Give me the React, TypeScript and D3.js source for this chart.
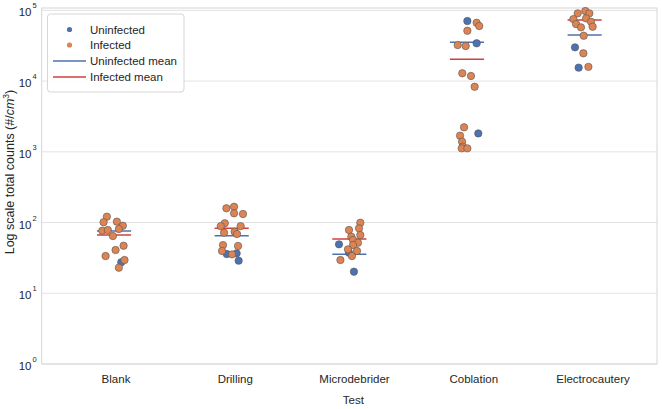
import React from "react";
import * as d3 from "d3";

const categories = ["Blank", "Drilling", "Microdebrider", "Coblation", "Electrocautery"];
const yTicks = [1, 10, 100, 1000, 10000, 100000];

const uninfectedCategory = [0, 1, 1, 1, 2, 2, 2, 3, 3, 3, 4, 4];
const uninfectedCount = [27.4, 35.9, 36.7, 28.9, 49.2, 37.4, 20.2, 70600, 34200, 1820, 30000, 15500];
const uninfectedJitter = [0.061, -0.042, 0.042, 0.059, -0.088, -0.003, 0.039, 0.003, 0.082, 0.096, -0.082, -0.051];

const infectedCategory = [
  0, 0, 0, 0, 0, 0, 0, 0, 0, 0, 0, 0, 0,
  1, 1, 1, 1, 1, 1, 1, 1, 1, 1, 1, 1, 1, 1,
  2, 2, 2, 2, 2, 2, 2, 2, 2, 2, 2, 2,
  3, 3, 3, 3, 3, 3, 3, 3, 3, 3, 3, 3, 3, 3,
  4, 4, 4, 4, 4, 4, 4, 4, 4, 4, 4, 4,
];
const infectedCount = [
  121, 101, 103, 90, 76.6, 78.4, 81, 64.5, 47, 40.9, 33.6, 29.5, 23,
  159, 167, 135, 132, 97.5, 89, 89, 71.8, 74, 68.8, 48, 46.6, 39.6, 35.5,
  99.4, 82.8, 78.4, 66.6, 63, 56.7, 51.9, 48.1, 41.8, 39.6, 33.6, 29.5,
  66800, 60000, 51500, 32300, 31300, 12900, 11800, 8320, 2220, 1690, 1390, 1180, 1120, 1120,
  90700, 97800, 90700, 75300, 77100, 69000, 64000, 57500, 58700, 43800, 24700, 15900,
];
const infectedJitter = [
  -0.061, -0.089, 0.024, 0.075, -0.1, -0.053, 0.041, -0.01, 0.081, 0.013, -0.072, 0.089, 0.041,
  -0.045, 0.02, 0.02, 0.096, -0.059, -0.093, 0.076, -0.065, 0.025, 0.045, -0.074, 0.054, -0.082, 0.003,
  0.093, 0.082, -0.003, 0.093, 0.017, 0.031, 0.073, 0.031, -0.012, 0.065, 0.022, -0.076,
  0.082, 0.104, 0.003, -0.079, -0.011, -0.04, 0.034, 0.065, -0.025, -0.059, -0.042, -0.036, -0.045, 0.003,
  -0.059, 0.006, 0.04, -0.096, 0.012, 0.054, -0.073, -0.031, 0.068, -0.008, -0.011, 0.032,
];

const uninfectedMean = [75.9, 65.1, 35.5, 35300, 44800];
const infectedMean = [66.6, 82.8, 58.5, 20300, 72900];

const BLUE = "#4c72b0";
const ORANGE = "#dd8452";
const RED = "#d0413c";
const FONT = "'Liberation Sans', Arial, sans-serif";

export default function App() {
  const W = 662, H = 409;
  const left = 41.7, right = 657, top = 8, bottom = 364;
  const x = d3.scaleLinear().domain([-0.615, 4.615]).range([left, right]);
  const labelX = d3.scaleLinear().domain([0, 4]).range([116, 593]);
  const y = d3.scaleLog().domain([1, 1.08e5]).range([bottom, top]);
  const half = 0.145;

  return (
    <svg width={W} height={H} style={{ position: "absolute", left: 0, top: 0, background: "#fff" }} fontFamily={FONT}>
      <rect x={left} y={top} width={right - left} height={bottom - top} fill="#fff" />
      {yTicks.map((t) => (
        <line key={"g" + t} x1={left} x2={right} y1={y(t)} y2={y(t)} stroke="#e3e3e3" strokeWidth={1} />
      ))}
      <rect x={left} y={top} width={right - left} height={bottom - top} fill="none" stroke="#d6d6d6" strokeWidth={1} />

      {yTicks.map((t) => (
        <g key={"t" + t}>
          <text x={31.5} y={y(t) + 6} textAnchor="end" fontSize={11.5} fill="#262626">10</text>
          <text x={32.5} y={y(t) - 2} fontSize={7.5} fill="#262626">{Math.round(Math.log10(t))}</text>
        </g>
      ))}

      {categories.map((c, i) => (
        <text key={c} x={labelX(i)} y={383} textAnchor="middle" fontSize={11.5} fill="#262626">{c}</text>
      ))}
      <text x={(left + right) / 2 + 4} y={404} textAnchor="middle" fontSize={11.5} fill="#262626">Test</text>
      <text transform={`translate(14,172) rotate(-90)`} textAnchor="middle" fontSize={12.5} fill="#262626">
        Log scale total counts (#/<tspan fontStyle="italic">cm</tspan>
        <tspan fontSize={8.5} dy={-5}>3</tspan>
        <tspan dy={5}>)</tspan>
      </text>

      {uninfectedMean.map((m, i) => (
        <line key={"um" + i} x1={x(i - half)} x2={x(i + half)} y1={y(m)} y2={y(m)} stroke={BLUE} strokeWidth={1.5} />
      ))}
      {infectedMean.map((m, i) => (
        <line key={"im" + i} x1={x(i - half)} x2={x(i + half)} y1={y(m)} y2={y(m)} stroke={RED} strokeWidth={1.5} />
      ))}

      {uninfectedCount.map((v, k) => (
        <circle key={"u" + k} cx={x(uninfectedCategory[k] + uninfectedJitter[k])} cy={y(v)} r={3.7}
          fill={BLUE} stroke="#555" strokeWidth={0.6} />
      ))}
      {infectedCount.map((v, k) => (
        <circle key={"i" + k} cx={x(infectedCategory[k] + infectedJitter[k])} cy={y(v)} r={3.7}
          fill={ORANGE} stroke="#555" strokeWidth={0.6} />
      ))}

      <g>
        <rect x={47.5} y={14} width={136.5} height={78} rx={3} fill="#fff" fillOpacity={0.9} stroke="#d6d6d6" strokeWidth={1} />
        <circle cx={69.5} cy={29.5} r={2.6} fill={BLUE} />
        <text x={90} y={33.5} fontSize={11.5} fill="#262626">Uninfected</text>
        <circle cx={69.5} cy={45} r={2.6} fill={ORANGE} />
        <text x={90} y={49} fontSize={11.5} fill="#262626">Infected</text>
        <line x1={53} x2={86} y1={61} y2={61} stroke={BLUE} strokeWidth={1.5} />
        <text x={90} y={65} fontSize={11.5} fill="#262626">Uninfected mean</text>
        <line x1={53} x2={86} y1={77} y2={77} stroke={RED} strokeWidth={1.5} />
        <text x={90} y={81} fontSize={11.5} fill="#262626">Infected mean</text>
      </g>
    </svg>
  );
}
